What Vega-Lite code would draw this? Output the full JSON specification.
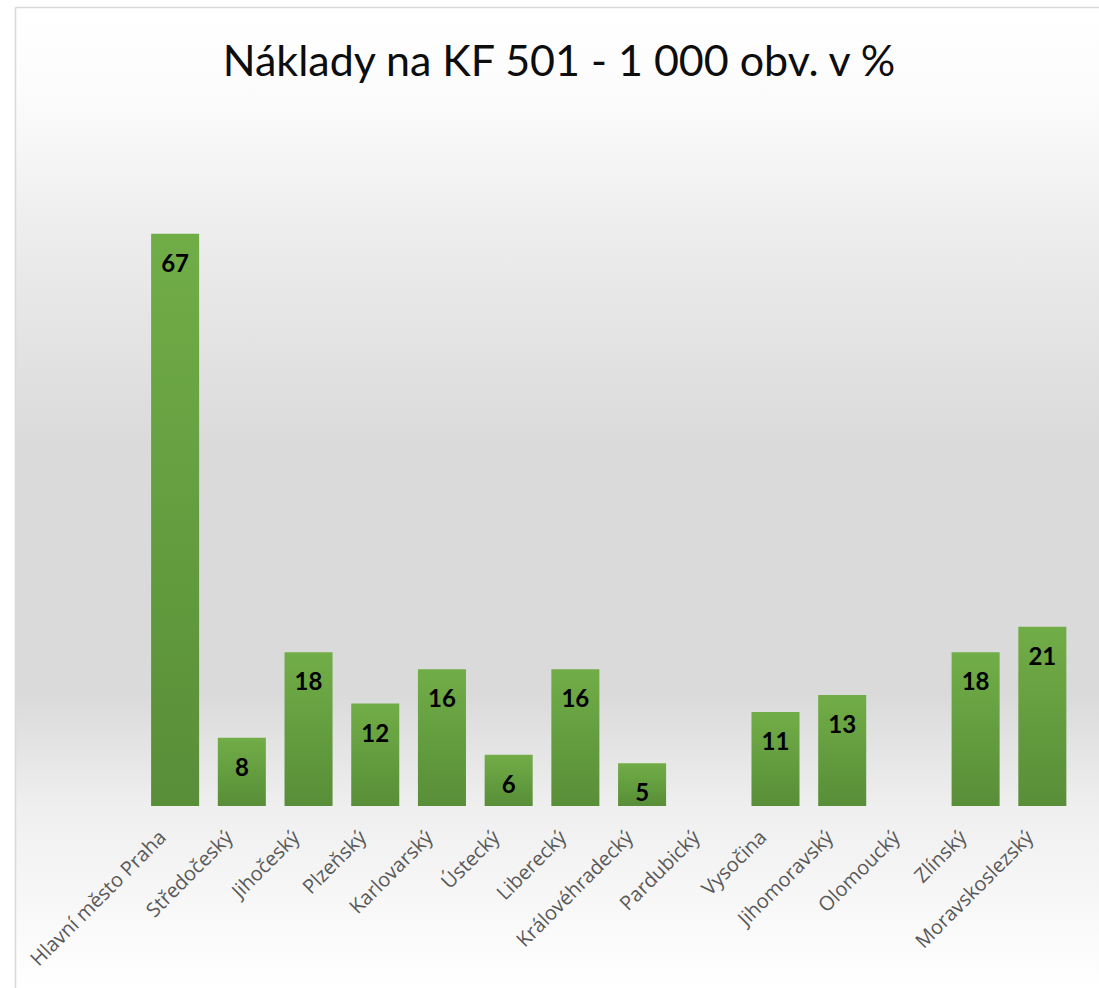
{
  "$schema": "https://vega.github.io/schema/vega-lite/v6.json",
  "width": 1084,
  "height": 981,
  "autosize": {"type": "none"},
  "padding": {"left": 15, "top": 7, "right": 0, "bottom": 0},
  "background": "#ffffff",
  "title": {
    "text": "Náklady na KF 501 - 1 000 obv. v %",
    "font": "Lato",
    "fontSize": 43,
    "fontWeight": "normal",
    "color": "#0d0d0d",
    "anchor": "middle",
    "baseline": "alphabetic",
    "offset": 0,
    "dy": 112,
    "dx": 2
  },
  "config": {
    "view": {
      "stroke": null,
      "fill": {
        "gradient": "linear",
        "x1": 0, "y1": 0, "x2": 0, "y2": 1,
        "stops": [
          {"offset": 0, "color": "#ffffff"},
          {"offset": 0.085, "color": "#fcfcfc"},
          {"offset": 0.25, "color": "#ebebeb"},
          {"offset": 0.45, "color": "#dadada"},
          {"offset": 0.7, "color": "#dadada"},
          {"offset": 0.815, "color": "#efefef"},
          {"offset": 1, "color": "#ffffff"}
        ]
      }
    }
  },
  "data": {
    "values": [
      {"kraj": "Hlavní město Praha", "v": 67},
      {"kraj": "Středočeský", "v": 8},
      {"kraj": "Jihočeský", "v": 18},
      {"kraj": "Plzeňský", "v": 12},
      {"kraj": "Karlovarský", "v": 16},
      {"kraj": "Ústecký", "v": 6},
      {"kraj": "Liberecký", "v": 16},
      {"kraj": "Královéhradecký", "v": 5},
      {"kraj": "Pardubický", "v": null},
      {"kraj": "Vysočina", "v": 11},
      {"kraj": "Jihomoravský", "v": 13},
      {"kraj": "Olomoucký", "v": null},
      {"kraj": "Zlínský", "v": 18},
      {"kraj": "Moravskoslezský", "v": 21}
    ]
  },
  "encoding": {
    "x": {
      "field": "kraj",
      "type": "nominal",
      "sort": null,
      "scale": {
        "domain": ["_pad1", "Hlavní město Praha", "Středočeský", "Jihočeský", "Plzeňský", "Karlovarský", "Ústecký", "Liberecký", "Královéhradecký", "Pardubický", "Vysočina", "Jihomoravský", "Olomoucký", "Zlínský", "Moravskoslezský"],
        "paddingInner": 0.28,
        "paddingOuter": 0.765,
        "align": 0.68
      },
      "axis": {
        "title": null,
        "domain": false,
        "ticks": false,
        "offset": -182,
        "labelExpr": "slice(datum.value, 0, 4) == '_pad' ? '' : datum.value",
        "labelAngle": -45,
        "labelAlign": "right",
        "labelBaseline": "middle",
        "labelPadding": 28,
        "labelOffset": -12,
        "labelLimit": 0,
        "labelFont": "Open Sans",
        "labelFontSize": 20,
        "labelColor": "#595959"
      }
    },
    "y": {
      "field": "v",
      "type": "quantitative",
      "scale": {"domain": [-21.31, 93.56], "nice": false, "zero": false},
      "axis": {
        "orient": "left",
        "title": null,
        "labels": false,
        "ticks": false,
        "values": [93.56],
        "grid": true,
        "gridColor": "#d9d9d9",
        "gridWidth": 1.5,
        "domain": true,
        "domainColor": "#d9d9d9",
        "domainWidth": 1.5
      }
    }
  },
  "layer": [
    {
      "mark": {
        "type": "bar",
        "color": {
          "gradient": "linear",
          "x1": 0, "y1": 0, "x2": 0, "y2": 1,
          "stops": [
            {"offset": 0, "color": "#71ad47"},
            {"offset": 1, "color": "#588e38"}
          ]
        }
      }
    },
    {
      "transform": [{"filter": "datum.v != null"}],
      "mark": {
        "type": "text",
        "font": "Lato",
        "fontSize": 24,
        "fontWeight": "bold",
        "color": "#000000",
        "baseline": "middle",
        "dy": 31
      },
      "encoding": {"text": {"field": "v", "type": "quantitative"}}
    }
  ]
}
